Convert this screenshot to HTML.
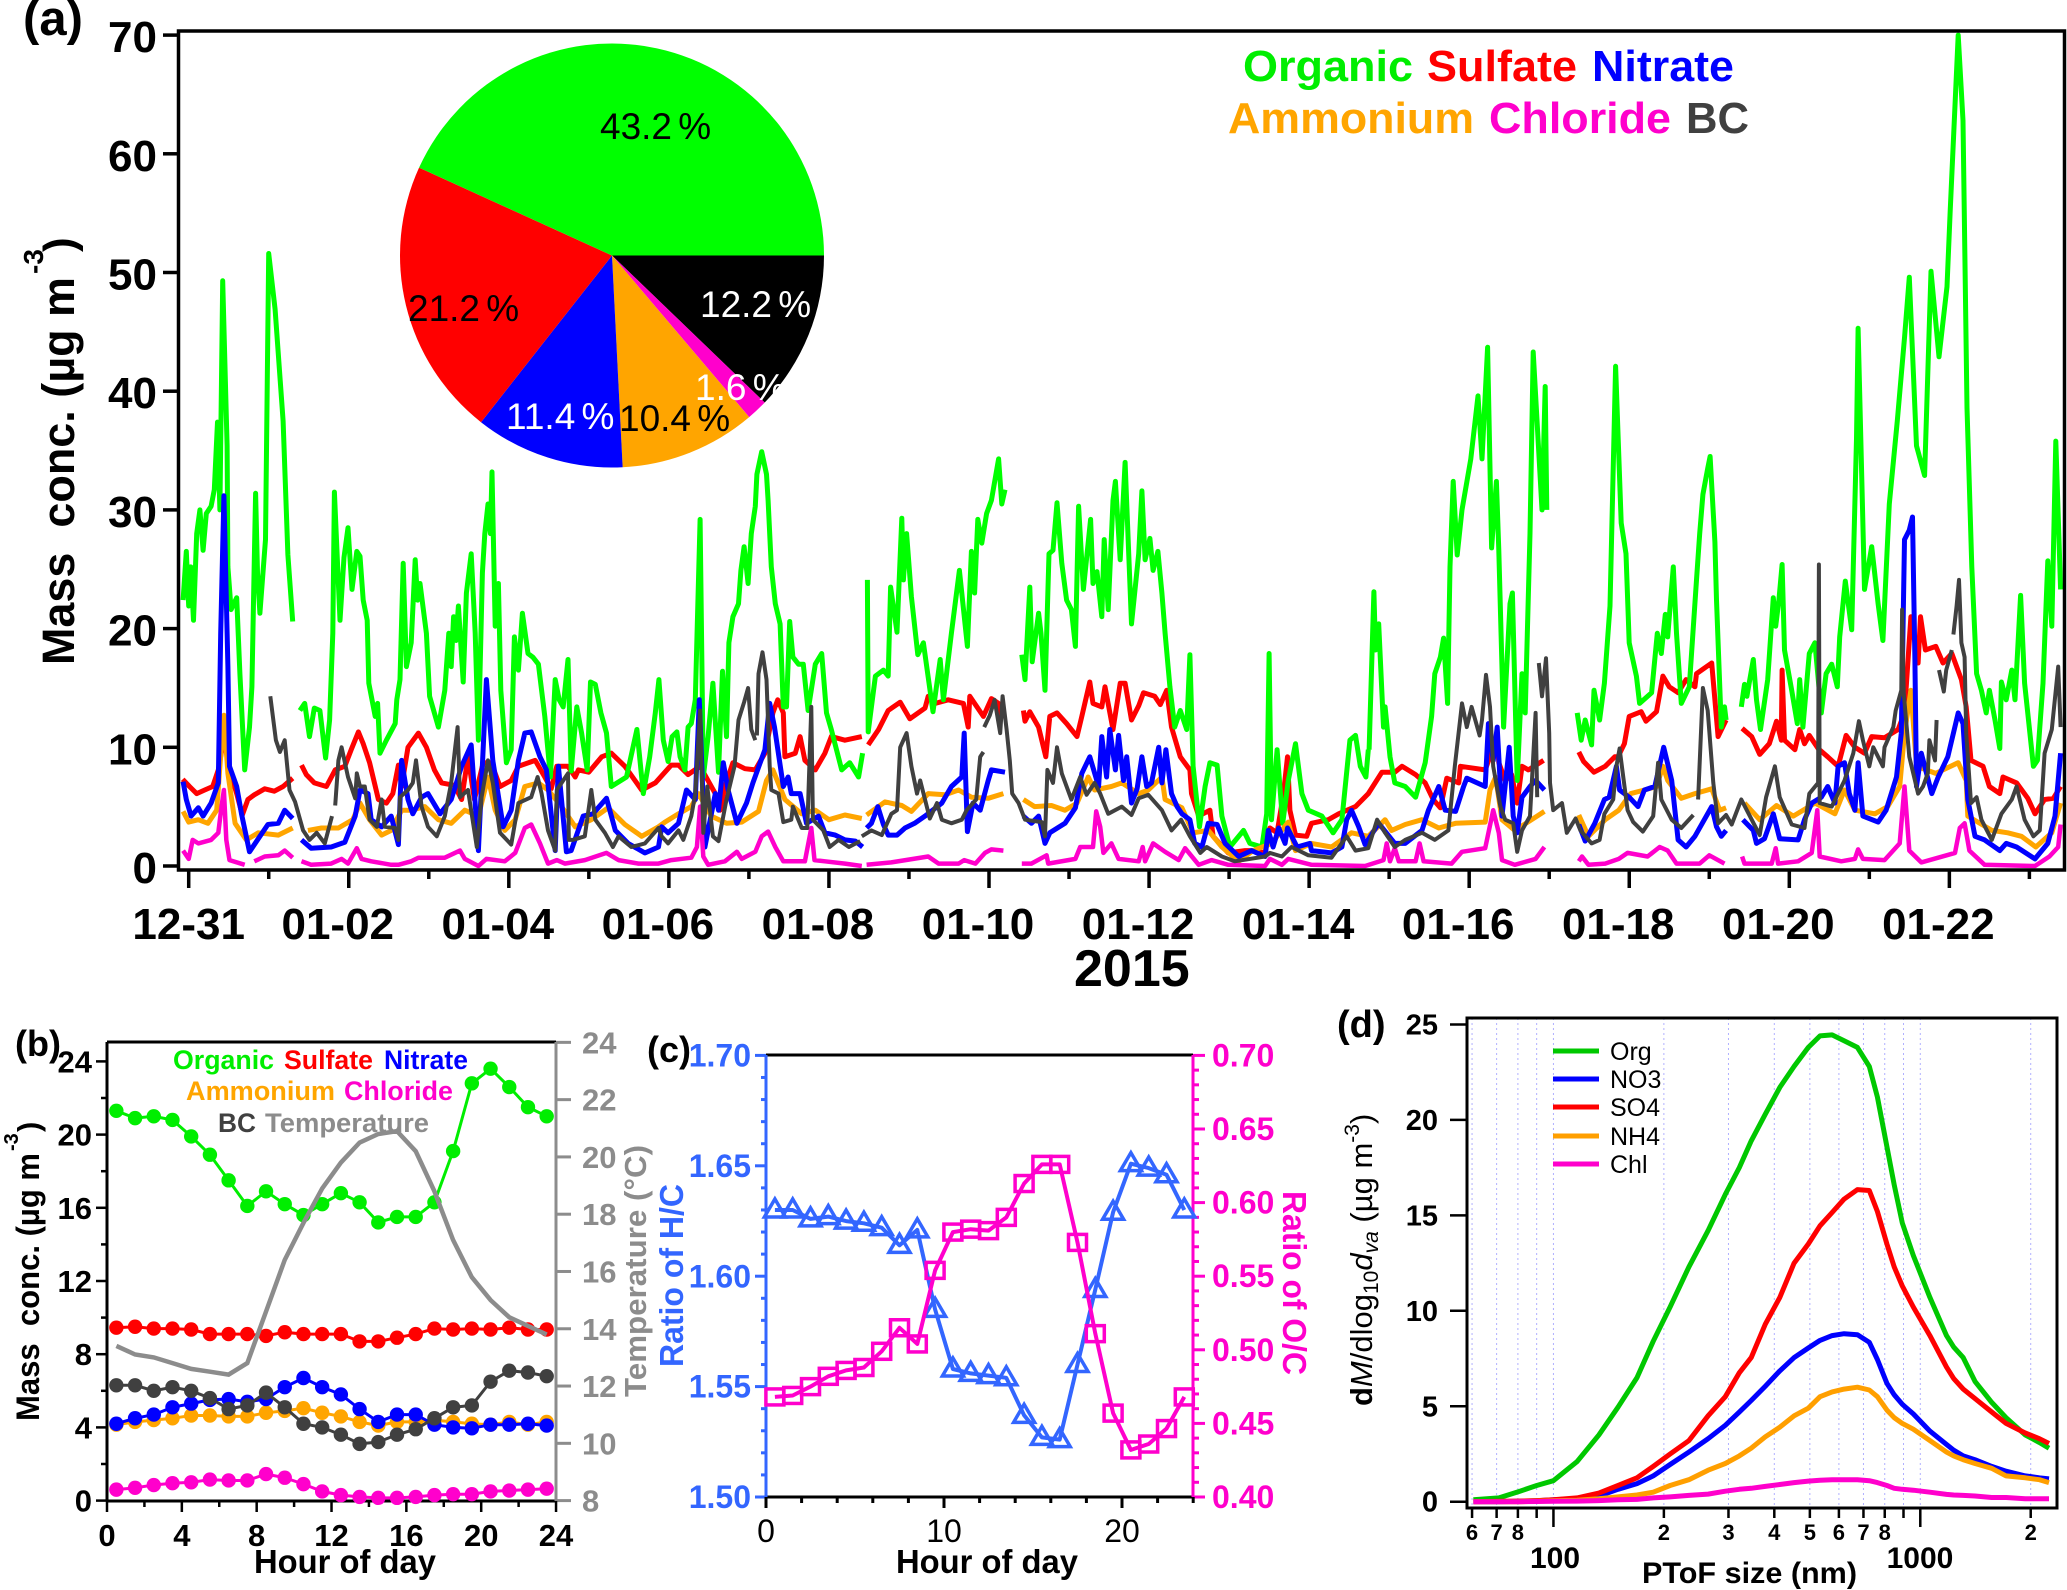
<!DOCTYPE html>
<html lang="en">
<head>
<meta charset="utf-8">
<title>Aerosol composition panels</title>
<style>
html,body{margin:0;padding:0;background:#fff;width:2067px;height:1590px;overflow:hidden}
svg{display:block}
text{font-family:"Liberation Sans",sans-serif}
.b{font-weight:bold}
</style>
</head>
<body>
<svg id="fig" xmlns="http://www.w3.org/2000/svg" width="2067" height="1590" viewBox="0 0 2067 1590">
  <g id="panelA">
    <text class="b" x="23" y="35" font-size="49">(a)</text>
    <g id="aLines"></g>
    <g id="aPie"></g>
    <rect x="178.5" y="31" width="1886" height="839" fill="none" stroke="#000" stroke-width="3.5"/>
    <g id="aAxes"></g>
    <text class="b" font-size="45" transform="translate(74,665) rotate(-90)" textLength="388" lengthAdjust="spacingAndGlyphs" xml:space="preserve">Mass  conc. (µg m</text>
    <text class="b" font-size="28" transform="translate(43,274) rotate(-90)">-3</text>
    <text class="b" font-size="44" transform="translate(74,252) rotate(-90)">)</text>
    <text class="b" x="1074" y="986" font-size="52">2015</text>
    <g class="b" font-size="44">
      <text x="1243" y="81" fill="#00ee00" textLength="170" lengthAdjust="spacingAndGlyphs">Organic</text>
      <text x="1427" y="81" fill="#ff0000" textLength="150" lengthAdjust="spacingAndGlyphs">Sulfate</text>
      <text x="1592" y="81" fill="#0000ff" textLength="142" lengthAdjust="spacingAndGlyphs">Nitrate</text>
      <text x="1228" y="133" fill="#ffa500" textLength="246" lengthAdjust="spacingAndGlyphs">Ammonium</text>
      <text x="1489" y="133" fill="#ff00cc" textLength="182" lengthAdjust="spacingAndGlyphs">Chloride</text>
      <text x="1686" y="133" fill="#404040" textLength="63" lengthAdjust="spacingAndGlyphs">BC</text>
    </g>
  </g>

  <g id="panelB">
    <text class="b" x="15" y="1056" font-size="36">(b)</text>
    <line x1="107" y1="1042" x2="556" y2="1042" stroke="#000" stroke-width="3"/>
    <line x1="107" y1="1042" x2="107" y2="1501" stroke="#000" stroke-width="3"/>
    <line x1="107" y1="1501" x2="556" y2="1501" stroke="#000" stroke-width="3"/>
    <line x1="556" y1="1042" x2="556" y2="1501" stroke="#8c8c8c" stroke-width="3"/>
    <g id="bAxes"></g>
    <g id="bMarks"></g>
    <text class="b" font-size="32" transform="translate(39,1421) rotate(-90)" textLength="268" lengthAdjust="spacingAndGlyphs" xml:space="preserve">Mass  conc. (µg m</text>
    <text class="b" font-size="20" transform="translate(18,1151) rotate(-90)">-3</text>
    <text class="b" font-size="31" transform="translate(39,1132) rotate(-90)">)</text>
    <text class="b" font-size="31" fill="#8c8c8c" transform="translate(646,1397) rotate(-90)" textLength="252" lengthAdjust="spacingAndGlyphs">Temperature (°C)</text>
    <text class="b" x="254" y="1573" font-size="33" textLength="182" lengthAdjust="spacingAndGlyphs">Hour of day</text>
    <g class="b" font-size="27">
      <text x="173" y="1069" fill="#00ee00" textLength="101" lengthAdjust="spacingAndGlyphs">Organic</text>
      <text x="284" y="1069" fill="#ff0000" textLength="89" lengthAdjust="spacingAndGlyphs">Sulfate</text>
      <text x="384" y="1069" fill="#0000ff" textLength="84" lengthAdjust="spacingAndGlyphs">Nitrate</text>
      <text x="186" y="1100" fill="#ffa500" textLength="149" lengthAdjust="spacingAndGlyphs">Ammonium</text>
      <text x="344" y="1100" fill="#ff00cc" textLength="109" lengthAdjust="spacingAndGlyphs">Chloride</text>
      <text x="218" y="1132" fill="#404040" textLength="38" lengthAdjust="spacingAndGlyphs">BC</text>
      <text x="265" y="1132" fill="#8c8c8c" textLength="164" lengthAdjust="spacingAndGlyphs">Temperature</text>
    </g>
  </g>

  <g id="panelC">
    <text class="b" x="647" y="1062" font-size="36">(c)</text>
    <line x1="766" y1="1055" x2="1193" y2="1055" stroke="#000" stroke-width="3"/>
    <line x1="766" y1="1497" x2="1193" y2="1497" stroke="#000" stroke-width="3"/>
    <line x1="766" y1="1055" x2="766" y2="1497" stroke="#3366ff" stroke-width="3"/>
    <line x1="1193" y1="1055" x2="1193" y2="1497" stroke="#ff00cc" stroke-width="3"/>
    <g id="cAxes"></g>
    <g id="cMarks"></g>
    <text class="b" font-size="33" fill="#3366ff" transform="translate(683,1367) rotate(-90)" textLength="183" lengthAdjust="spacingAndGlyphs">Ratio of H/C</text>
    <text class="b" font-size="33" fill="#ff00cc" transform="translate(1283,1191) rotate(90)" textLength="184" lengthAdjust="spacingAndGlyphs">Ratio of O/C</text>
    <text class="b" x="896" y="1573" font-size="33" textLength="182" lengthAdjust="spacingAndGlyphs">Hour of day</text>
  </g>

  <g id="panelD">
    <text class="b" x="1337" y="1037" font-size="38">(d)</text>
    <g id="dGrid"></g>
    <g id="dMarks"></g>
    <rect x="1467" y="1018" width="590" height="490" fill="none" stroke="#000" stroke-width="3"/>
    <g id="dAxes"></g>
    <g font-size="25">
      <line x1="1553" y1="1051" x2="1599" y2="1051" stroke="#00c800" stroke-width="5"/>
      <text x="1610" y="1060">Org</text>
      <line x1="1553" y1="1079" x2="1599" y2="1079" stroke="#0000ff" stroke-width="5"/>
      <text x="1610" y="1088">NO3</text>
      <line x1="1553" y1="1107" x2="1599" y2="1107" stroke="#ff0000" stroke-width="5"/>
      <text x="1610" y="1116">SO4</text>
      <line x1="1553" y1="1136" x2="1599" y2="1136" stroke="#ff9f00" stroke-width="5"/>
      <text x="1610" y="1145">NH4</text>
      <line x1="1553" y1="1164" x2="1599" y2="1164" stroke="#ff00cc" stroke-width="5"/>
      <text x="1610" y="1173">Chl</text>
    </g>
    <text font-size="31" transform="translate(1372,1406) rotate(-90)" xml:space="preserve"><tspan font-weight="bold">d</tspan><tspan font-style="italic">M</tspan>/dlog<tspan font-size="21" dy="6">10</tspan><tspan font-style="italic" dy="-6">d</tspan><tspan font-style="italic" font-size="21" dy="6">va</tspan><tspan dy="-6"> (µg m</tspan><tspan font-size="21" dy="-13">-3</tspan><tspan dy="13">)</tspan></text>
    <text class="b" x="1642" y="1583" font-size="30" textLength="215" lengthAdjust="spacingAndGlyphs">PToF size (nm)</text>
  </g>
</svg>

<script>
/* ---------- Panel (a) data: [day since 12-31, mass concentration]; null marks a data gap ---------- */
const organicSeries = [[-.07,22.4],[-.03,26.5],[0,21.9],[.025,25.2],[.06,20.7],[.1,28],[.14,30],[.18,26.6],[.22,29.7],[.28,30.3],[.32,31.7],[.36,37.4],[.39,30],[.425,49.3],[.48,35.4],[.49,25.2],[.53,21.6],[.6,22.6],[.64,16.2],[.7,8.1],[.76,11.7],[.79,15.1],[.82,25.8],[.836,31.4],[.86,24.7],[.89,21.3],[.96,27.5],[1,51.6],[1.08,46.9],[1.18,37.5],[1.24,26.2],[1.3,20.6],null,
[1.39,13.1],[1.45,13.7],[1.51,10.9],[1.57,13.3],[1.64,13.1],[1.71,9.1],[1.76,12.3],[1.8,19.6],[1.82,31.5],[1.89,20.7],[1.94,26],[1.99,28.5],[2.04,23.3],[2.1,26.5],[2.14,26.1],[2.18,22.4],[2.23,20.7],[2.25,15.4],[2.33,12.6],[2.36,13.7],[2.39,9.5],[2.47,10.6],[2.58,12],[2.6,14],[2.64,15.7],[2.68,25.5],[2.72,16.8],[2.78,18.8],[2.83,25.8],[2.86,22.4],[2.89,23.8],[2.97,19.6],[3.01,14.3],[3.12,11.7],[3.2,14.8],[3.25,19.6],[3.28,16.8],[3.31,21],[3.34,19],[3.37,21.9],[3.43,15.5],[3.47,23],[3.53,26.3],[3.58,19.6],[3.62,10.6],[3.67,24.7],[3.7,28],[3.74,30.5],[3.77,28],[3.79,33.2],[3.83,20.2],[3.87,23.8],[3.9,14.8],[3.97,8.7],[4.03,9.8],[4.07,19.3],[4.12,16.5],[4.17,21.3],[4.24,17.9],[4.3,17.6],[4.37,17],[4.45,12.6],[4.52,7.5],[4.58,15.7],[4.63,14],[4.68,13.4],[4.74,17.4],[4.78,8],[4.85,13.4],[4.91,11.2],[4.98,8.1],[5.02,15.5],[5.08,15.3],[5.15,12.9],[5.22,11.2],[5.28,6.7],[5.47,7.5],[5.6,11.5],[5.68,6.1],[5.76,9.2],[5.83,12.9],[5.875,15.7],[5.93,10.6],[5.99,8.8],[6.04,10.9],[6.1,11.3],[6.14,9.2],[6.2,8.1],[6.24,11.7],[6.28,12],[6.33,14],[6.39,29.2],[6.43,7.5],[6.49,10.9],[6.55,15.4],[6.62,7.9],[6.67,16.4],[6.72,10.9],[6.75,18.8],[6.8,21],[6.87,22.1],[6.9,24.9],[6.94,26.9],[6.99,23.8],[7.03,28],[7.08,30.3],[7.1,33],[7.16,34.9],[7.22,33],[7.24,30.8],[7.28,25.2],[7.33,22.1],[7.39,20.4],[7.43,13.4],[7.47,13.4],[7.51,20.6],[7.55,17.6],[7.62,17],[7.68,17],[7.74,13.1],[7.83,17],[7.91,17.9],[7.97,12.9],[8.03,11.5],[8.16,8.1],[8.26,8.7],[8.37,7.5],[8.42,9.5],null,
[8.48,24.1],[8.49,11.3],[8.58,16],[8.68,16.5],[8.74,16],[8.77,23.5],[8.85,19.7],[8.91,29.3],[8.93,24.1],[8.97,28],[9.03,22.7],[9.11,17.8],[9.18,18.8],[9.3,13],[9.39,17.4],[9.43,14],[9.53,19.6],[9.63,24.9],[9.73,18.5],[9.78,26.5],[9.82,23],[9.86,29.2],[9.91,27.2],[9.97,29.7],[10.03,30.8],[10.12,34.3],[10.16,30.5],[10.2,31.7],null,
[10.41,17.8],[10.45,15.7],[10.51,23.5],[10.54,17.2],[10.62,21.3],[10.65,19.6],[10.7,14.8],[10.75,26.3],[10.8,26.6],[10.85,30.6],[10.91,25.5],[10.97,22.4],[11.03,21.6],[11.08,18.5],[11.12,30.3],[11.18,23.3],[11.27,29.2],[11.3,23.8],[11.35,24.8],[11.41,21],[11.44,27.5],[11.49,21.6],[11.55,30.8],[11.58,32.4],[11.64,25.8],[11.7,34],[11.78,20.4],[11.87,26.3],[11.91,31.6],[11.95,25.8],[12.01,27.6],[12.05,24.9],[12.11,26.5],[12.16,23],[12.2,19.6],[12.26,15.1],[12.32,11.7],[12.39,13.1],[12.47,11.5],[12.51,17.8],[12.55,8.4],[12.63,3.3],[12.7,6.7],[12.76,8.7],[12.85,8.5],[12.91,4.2],[13.01,1.6],[13.18,3],[13.26,1.9],[13.41,1.6],[13.47,4.4],[13.5,17.9],[13.53,3.9],[13.6,9.8],[13.67,3.6],[13.74,7.2],[13.83,10.3],[13.91,6.1],[13.99,4.7],[14.16,4.2],[14.3,2.8],[14.41,3.9],[14.51,10.6],[14.58,11],[14.64,8.4],[14.71,7.5],[14.74,9.8],null,
[14.75,9.8],[14.81,23.1],[14.83,18.2],[14.87,20.4],[14.93,11.7],[14.95,13.4],[15.01,9.2],[15.07,7],[15.2,6.7],[15.33,5.8],[15.45,8.7],[15.53,12.6],[15.57,16.2],[15.64,17.6],[15.68,19.2],[15.73,13.7],[15.76,25.2],[15.8,32.4],[15.85,26.2],[15.91,30],[16.02,34.3],[16.11,39.6],[16.16,34.3],[16.23,43.7],[16.28,26.8],[16.34,32.4],[16.37,26.6],[16.43,11.7],[16.51,22.1],[16.54,23],[16.6,7.2],[16.66,16.2],[16.7,12.9],[16.76,28],[16.8,43.3],[16.91,30],[16.95,40.4],[16.97,30],null,
[17.35,12.9],[17.4,10.6],[17.45,12.3],[17.53,10.2],[17.56,14.8],[17.63,12.3],[17.69,15.4],[17.76,21.9],[17.83,42.1],[17.9,28.9],[17.96,26.3],[18,18.8],[18.09,16],[18.13,13.7],[18.28,14.6],[18.35,19.6],[18.4,17.9],[18.45,21.2],[18.48,19.3],[18.55,25.2],[18.59,19.6],[18.65,13.7],[18.75,15.1],[18.84,24.1],[18.88,28],[18.92,31.3],[18.98,33.5],[19.01,34.5],[19.07,27.3],[19.09,22.4],[19.15,11.7],[19.19,13.4],[19.21,12.3],null,
[19.4,13.4],[19.44,15.3],[19.47,14.3],[19.55,17.4],[19.59,14],[19.64,11.5],[19.73,15.7],[19.8,22.6],[19.83,20.2],[19.87,22.4],[19.91,25.4],[19.94,18.2],[20.03,14.8],[20.1,12],[20.13,15.7],[20.17,11.7],[20.25,17.9],[20.32,18.8],[20.4,12.9],[20.46,16.2],[20.53,17],[20.6,15.1],[20.63,19.3],[20.7,24],[20.78,19.9],[20.84,36],[20.86,45.3],[20.94,23.3],[21.03,26.9],[21.11,22.1],[21.17,19],[21.25,30.5],[21.35,37.5],[21.44,44.5],[21.5,49.6],[21.59,35.4],[21.69,32.9],[21.77,50.1],[21.87,42.9],[21.97,48.8],[22.01,55.2],[22.11,70],[22.17,62.8],[22.22,38.6],[22.28,25.2],[22.34,16.2],[22.4,14.8],[22.46,12.9],[22.5,14.8],[22.57,12.3],[22.63,9.9],[22.65,15.5],[22.71,14],[22.78,16.5],[22.82,14],[22.89,22.8],[22.94,15.4],[23.05,8.4],[23.1,8.9],[23.17,15.4],[23.23,25.7],[23.28,20.2],[23.33,35.8],[23.39,23.3]];

const sulfateSeries = [[-.075,7.3],[.01,6.7],[.1,6.1],[.2,6.4],[.3,6.7],[.37,8.1],[.44,10.8],[.51,8.1],[.6,6.1],[.67,4.3],[.74,5.6],[.82,6],[.95,6.5],[1.07,6.3],[1.18,6.7],[1.3,7.4],null,
[1.41,8.5],[1.47,7.7],[1.57,7],[1.72,6.7],[1.83,8.1],[1.95,8.4],[2.03,9.8],[2.12,11.3],[2.18,10.3],[2.26,8.7],[2.37,5.6],[2.47,5.3],[2.55,6.1],[2.62,8.5],[2.66,6.7],[2.74,10],[2.87,11.2],[2.97,10],[3.07,8.1],[3.16,7],[3.32,6.8],[3.41,5.6],[3.49,9.2],[3.57,5.6],[3.68,8.7],[3.78,8.7],[3.89,6.7],[4.03,7.2],[4.12,8.4],[4.33,8.9],[4.45,7.5],[4.53,6.5],[4.6,8.4],[4.74,8.4],[4.83,7.5],[4.87,8.1],[5,7.9],[5.16,9.2],[5.28,9.5],[5.45,8.4],[5.66,6.4],[5.83,7],[6.03,8.5],[6.12,8.5],[6.24,7.7],[6.39,8.4],[6.58,6.1],[6.64,4.7],[6.7,6.7],[6.8,8.7],[6.95,8.2],[7.08,8.1],[7.2,9.5],[7.3,12.9],[7.36,14],[7.43,12.9],[7.45,9.2],[7.58,9.5],[7.64,10.9],[7.7,8.9],[7.83,8.1],[7.95,9.5],[8.03,10.9],[8.2,10.6],[8.41,10.9],null,
[8.49,10.2],[8.62,11.5],[8.74,13.1],[8.89,13.8],[9.01,12.4],[9.2,13.3],[9.24,14.3],[9.33,13.7],[9.49,14],[9.68,13.7],[9.74,11.7],[9.76,14.3],[9.93,12.6],[10.03,14.1],[10.12,13.7],[10.14,12.3],null,
[10.43,13.1],[10.45,12.2],[10.51,13],[10.62,11.7],[10.71,9.2],[10.76,12.6],[10.85,12.9],[10.97,12],[11.1,10.9],[11.16,12.6],[11.26,15.5],[11.3,13.7],[11.41,13.4],[11.45,15.1],[11.55,11.5],[11.64,15.4],[11.7,15.4],[11.78,12.3],[11.87,13.5],[11.93,14.6],[12.07,14.3],[12.14,13.6],[12.22,14.8],[12.28,11.7],[12.39,9.2],[12.51,8.1],[12.53,6.1],[12.62,4.2],[12.76,4.7],[12.8,2.5],[12.99,1.1],[13.2,1.3],[13.3,1.3],[13.45,1.1],[13.51,3.2],[13.6,2.8],[13.68,6.1],[13.73,9.2],[13.76,4.7],[13.83,2.6],[13.97,2.5],[14.03,3.6],[14.24,3.9],[14.37,4.4],[14.58,5],[14.74,6.1],[14.91,7.9],[15.07,7.9],[15.16,8.4],[15.33,7.7],[15.45,7],[15.55,5.6],[15.64,4.9],[15.72,7.4],[15.87,7],[15.89,8.4],[16.2,8.1],[16.35,10.9],[16.37,8.7],[16.45,7.2],[16.53,7.7],[16.6,5.3],[16.66,8.4],[16.74,8.1],[16.93,8.9],null,
[17.37,9.6],[17.43,8.8],[17.56,7.9],[17.7,8.4],[17.82,9.2],[17.86,9.2],[17.94,10.3],[18,12.6],[18.15,13],[18.21,12.2],[18.34,13],[18.42,16],[18.5,15.1],[18.61,14.6],[18.71,15.7],[18.82,15.1],[18.84,16.2],[19.03,17.1],[19.11,10.9],[19.21,12.3],null,
[19.41,11.6],[19.53,10.9],[19.63,9.4],[19.75,10.3],[19.84,12.2],[19.9,10.6],[19.91,16.5],[19.94,10.6],[20.07,9.8],[20.13,11.5],[20.19,10.3],[20.25,11],[20.36,9.9],[20.48,9.2],[20.61,8.4],[20.71,11],[20.82,10],[20.94,9.5],[21.03,10.9],[21.19,10.8],[21.36,11.5],[21.44,12.9],[21.52,21],[21.61,17.1],[21.64,21],[21.7,18.2],[21.83,18.5],[21.92,17.1],[22.03,17.9],[22.15,15.7],[22.21,13.4],[22.27,8.9],[22.42,8.4],[22.5,6.7],[22.63,6.1],[22.67,7.5],[22.84,7],[22.98,5.7],[23.07,4.4],[23.19,5.6],[23.3,5.7],[23.39,6.7]];

const nitrateSeries = [[-.07,7.1],[-.03,5.6],[.03,4.2],[.12,4.9],[.18,4.2],[.28,5.3],[.37,7],[.4,19.6],[.44,31.2],[.49,16.8],[.51,8.4],[.6,6.7],[.66,4.4],[.76,1.2],[.89,2.5],[.99,3.5],[1.12,3.6],[1.2,4.7],[1.3,4],null,
[1.41,2.2],[1.53,1.5],[1.78,1.6],[1.95,2],[2.08,4.2],[2.14,6.4],[2.24,6.1],[2.28,3.9],[2.41,3.3],[2.53,4.2],[2.62,1.8],[2.66,8.9],[2.74,5.6],[2.8,4.4],[2.91,5.8],[2.99,6.1],[3.14,4.4],[3.28,5.6],[3.41,8.4],[3.53,10.2],[3.62,1.3],[3.72,15.7],[3.8,8.9],[3.93,3.3],[4.03,4.7],[4.12,8.9],[4.2,11.2],[4.28,11.3],[4.39,9.2],[4.47,8.1],[4.58,1.3],[4.62,8.4],[4.72,1.2],[4.78,1.3],[4.93,4.2],[5.05,4.4],[5.22,5.7],[5.33,3],[5.49,1.9],[5.7,1.1],[5.87,1.6],[5.91,3.3],[5.99,2.8],[6.12,3.6],[6.22,6.4],[6.33,5.6],[6.38,14],[6.45,1.6],[6.58,6.1],[6.62,4.7],[6.68,8.7],[6.74,6.4],[6.85,3.6],[6.97,5.3],[7.05,7],[7.2,9.8],[7.26,13.7],[7.32,11.7],[7.43,6.7],[7.49,7.5],[7.53,6.1],[7.64,6.1],[7.72,3.6],[7.87,4.2],[7.95,2.8],[8.08,2.6],[8.2,2.2],[8.33,2.1],[8.42,1.6],null,
[8.47,3.2],[8.53,3.6],[8.61,5],[8.68,3.5],[8.74,2.6],[8.85,2.6],[8.95,3.2],[9.07,3.6],[9.2,4.2],[9.41,5.3],[9.53,6.7],[9.66,7.5],[9.69,11.2],[9.73,2.9],[9.8,5.3],[9.89,4.7],[9.99,7.2],[10.03,8.1],[10.2,7.9],null,
[10.43,4.2],[10.53,3.6],[10.62,4.2],[10.7,1.9],[10.76,2.8],[10.95,3.6],[11.08,4.9],[11.16,7.8],[11.26,9.2],[11.37,6.7],[11.41,10.9],[11.47,7.5],[11.51,11.5],[11.58,8.1],[11.62,11],[11.68,7.2],[11.72,9.2],[11.78,5.3],[11.85,6.5],[11.91,9.2],[11.97,6.7],[12.03,7],[12.12,10],[12.16,7],[12.21,9.8],[12.28,6.1],[12.35,5],[12.41,4.4],[12.51,3.9],[12.57,1.9],[12.66,1.6],[12.74,3.6],[12.85,3.5],[12.95,1.9],[13.12,.8],[13.28,1.3],[13.45,.8],[13.49,3],[13.55,1.6],[13.62,3.2],[13.7,1.9],[13.73,3.2],[13.85,1.6],[14.01,1.9],[14.03,1.3],[14.28,1.1],[14.41,1.6],[14.47,3.9],[14.53,4.7],[14.62,3.3],[14.7,1.8],[14.87,3.6],[15.07,1.9],[15.2,1.9],[15.41,3],[15.49,4.7],[15.62,6.7],[15.7,4.7],[15.83,4.6],[15.93,6.7],[15.97,7.4],[16.2,6.7],[16.24,12],[16.3,8.9],[16.35,11.7],[16.41,4.2],[16.5,10],[16.55,4.2],[16.6,2.8],[16.66,5.8],[16.76,6.7],[16.83,7.2],[16.94,6.4],null,
[17.37,3.5],[17.45,2.1],[17.57,3.6],[17.69,5.6],[17.75,5.8],[17.84,8.4],[17.88,6.4],[18,5.8],[18.11,5],[18.19,6.4],[18.32,6.7],[18.43,10],[18.53,7.2],[18.61,2.2],[18.71,1.6],[18.82,2.5],[19.03,5],[19.09,3.3],[19.15,2.5],[19.21,3],null,
[19.42,3.9],[19.55,3],[19.59,1.9],[19.69,2.3],[19.8,4.4],[19.88,2.3],[20.11,2.2],[20.19,3.9],[20.28,5.3],[20.4,5.8],[20.48,6.7],[20.57,5.3],[20.61,8.4],[20.69,8.7],[20.75,6.1],[20.82,4.7],[20.86,8.7],[20.92,4.2],[21.11,3.7],[21.21,4.7],[21.34,7.5],[21.4,11.2],[21.44,27.5],[21.5,28.3],[21.54,29.4],[21.57,17.4],[21.59,6.7],[21.65,9.5],[21.78,6.1],[21.86,7.5],[21.98,9.2],[22.11,12.9],[22.17,12],[22.23,5.6],[22.32,2.5],[22.44,2.2],[22.63,1.3],[22.71,1.9],[22.84,1.6],[23.07,.6],[23.23,1.9],[23.32,4.2],[23.39,9.5]];

const ammoniumSeries = [[-.07,4.6],[0,3.7],[.12,3.9],[.24,3.6],[.35,4.7],[.39,8.4],[.44,12.7],[.49,7.8],[.58,3.6],[.72,2.2],[.87,2.8],[1.12,2.6],[1.3,3.2],null,
[1.49,3],[1.66,3.2],[1.87,3.2],[2.05,3.9],[2.14,5.3],[2.26,3.9],[2.41,2.6],[2.53,3],[2.66,4.7],[2.78,4.7],[2.95,5],[3.12,3.9],[3.28,3.6],[3.45,4.7],[3.62,4.2],[3.74,7.5],[3.83,4.7],[3.95,3],[4.08,3.9],[4.2,6.7],[4.37,7],[4.49,6.4],[4.66,5],[4.83,3.3],[5.03,3.9],[5.24,4.9],[5.45,3.5],[5.66,2.5],[5.87,3.3],[5.95,3.7],[6.12,4.4],[6.28,5],[6.37,6.1],[6.53,4.2],[6.72,3.6],[6.91,3.7],[7.12,4.6],[7.22,7.2],[7.3,8.1],[7.45,5.6],[7.66,4.4],[7.83,4.7],[8,3.9],[8.2,4.3],[8.41,4],null,
[8.47,4.3],[8.7,5.4],[8.91,5.1],[9.03,4.6],[9.24,6.1],[9.45,6],[9.62,6.4],[9.78,5.8],[9.99,5.7],[10.18,6.1],null,
[10.43,5.6],[10.57,5],[10.78,5.1],[10.95,4.7],[11.1,5.3],[11.24,7.5],[11.32,6.4],[11.53,6.7],[11.66,7],[11.87,6.1],[11.99,6.4],[12.16,7.5],[12.2,5.6],[12.41,4.9],[12.55,2.8],[12.74,3],[12.91,1.6],[13.12,.4],[13.3,1.3],[13.53,1.9],[13.74,3.7],[13.83,1.3],[14.03,1.9],[14.28,1.6],[14.53,2.8],[14.74,2.5],[14.95,3.9],[15.03,3],[15.2,3.5],[15.41,3.9],[15.62,3.2],[15.83,3.6],[16.2,3.7],[16.26,6.4],[16.33,7.5],[16.41,3.9],[16.57,3],[16.78,3.9],[16.94,4.6],null,
[17.37,4.3],[17.49,2.5],[17.7,3.9],[17.87,4.7],[18.02,6.1],[18.19,6.4],[18.34,6.7],[18.42,8.4],[18.48,7.2],[18.65,5.7],[18.82,6.1],[19.03,6.5],[19.13,4.7],[19.21,4.9],null,
[19.44,5.3],[19.63,3.9],[19.84,5.1],[20.05,4.2],[20.32,5.3],[20.57,4.4],[20.69,6.4],[20.82,4.7],[21.07,4.4],[21.23,5],[21.38,6.7],[21.44,11.2],[21.52,14.8],[21.59,8.4],[21.83,7.8],[21.95,8.2],[22.11,8.7],[22.21,7.2],[22.23,4.2],[22.53,3],[22.73,2.8],[22.9,2.5],[23.08,1.6],[23.28,2.8],[23.39,5.3]];

const chlorideSeries = [[-.07,1.3],[0,.6],[.05,2.2],[.12,1.9],[.28,2.2],[.37,2.8],[.41,5],[.44,6.4],[.47,2.2],[.51,.5],[.7,.1],null,
[.82,.4],[.95,.8],[1.12,.9],[1.2,1.3],[1.3,.7],null,
[1.41,.4],[1.53,.1],[1.78,.2],[1.91,.6],[1.99,.2],[2.1,1.5],[2.16,.6],[2.28,.4],[2.53,.1],[2.62,.1],[2.78,.4],[2.87,.7],[3.2,.7],[3.39,1.3],[3.45,.6],[3.62,0],[3.72,.6],[3.95,.4],[4.08,1.1],[4.2,3.2],[4.28,3.5],[4.39,1.9],[4.49,.2],[4.6,.5],[4.7,.2],[4.95,.5],[5.22,1.1],[5.37,.5],[5.62,.2],[5.87,.2],[6.03,.5],[6.28,.7],[6.35,1.6],[6.39,5],[6.43,.8],[6.49,.1],[6.7,.4],[6.85,1.2],[6.91,.6],[7.08,1.2],[7.16,2.5],[7.24,2.9],[7.33,1.6],[7.43,.4],[7.7,.4],[7.78,3.2],[7.82,.5],[7.95,.4],[8.2,.2],[8.41,0],null,
[8.47,.1],[8.78,.3],[9.24,.8],[9.37,.2],[9.62,.2],[9.69,.5],[9.83,.2],[9.95,1.1],[10.03,1.4],[10.18,1.3],null,
[10.41,.2],[10.53,.2],[10.72,.9],[10.74,.2],[11.08,.6],[11.14,1.6],[11.3,1.6],[11.34,4.6],[11.39,3.3],[11.43,1.1],[11.53,1.9],[11.62,.6],[11.87,.4],[11.92,1.6],[11.95,.4],[12.05,1.9],[12.2,1.2],[12.37,.5],[12.45,1.5],[12.62,.1],[12.78,.5],[12.99,.1],[13.45,0],[13.51,.6],[13.66,.1],[13.74,.6],[14.03,.1],[14.7,0],[14.93,.5],[14.97,1.9],[15.01,.4],[15.07,1.5],[15.12,.4],[15.33,.4],[15.38,1.9],[15.43,.4],[15.78,.2],[15.91,1.2],[16.2,1.5],[16.3,4.7],[16.37,2.8],[16.41,.5],[16.57,.1],[16.83,.6],[16.94,1.6],null,
[17.37,.4],[17.41,.8],[17.49,.1],[17.7,.2],[17.87,.6],[17.98,1.1],[18.23,.8],[18.38,1.6],[18.48,1.3],[18.59,.2],[18.88,.2],[19,.9],[19.19,.2],null,
[19.41,.8],[19.44,.2],[19.78,.2],[19.83,1.5],[19.86,.2],[20.11,.4],[20.28,1.1],[20.35,4.7],[20.38,.8],[20.65,.4],[20.82,.6],[20.86,1.4],[20.92,.6],[21.19,.5],[21.38,1.9],[21.44,6.7],[21.5,1.3],[21.65,.3],[22.07,1.1],[22.13,3.2],[22.19,3.6],[22.25,1.3],[22.44,.1],[23.07,0],[23.25,.8],[23.36,1.6],[23.39,3.5]];

const bcSeries = [[1.02,14.3],[1.09,10.6],[1.14,9.6],[1.2,10.6],[1.26,6.4],[1.33,5.4],[1.43,3],[1.51,2.2],[1.6,2.8],[1.7,1.9],[1.79,4.2],null,
[1.83,5.1],[1.87,8.9],[1.91,10],[1.99,7.5],[2.08,5.7],[2.1,7.8],[2.14,6.7],[2.2,6.7],[2.26,3.9],[2.35,3.3],[2.41,5.6],[2.45,3.3],[2.58,3.2],[2.62,2.2],[2.64,5.8],[2.74,6.4],[2.8,7],[2.84,8.9],[2.91,5],[2.99,3.3],[3.1,2.5],[3.2,4.2],[3.28,7],[3.33,10],[3.36,11.7],[3.39,5.8],[3.49,6.4],[3.6,1.6],[3.66,5.8],[3.74,8.9],[3.8,7],[3.89,2.8],[4.03,1.8],[4.12,5.3],[4.28,5.8],[4.36,7.5],[4.41,6.1],[4.49,3],[4.58,1.3],[4.6,6.4],[4.74,7.8],[4.75,2.2],[4.8,2.2],[4.95,2.5],[5.03,6.4],[5.08,3.9],[5.2,2.8],[5.3,1.6],[5.37,2.5],[5.53,1.6],[5.7,1.9],[5.87,3.2],[5.91,2.5],[5.99,1.9],[6.12,3],[6.18,2.2],[6.28,4.2],[6.33,6.1],[6.39,13.1],[6.43,2.8],[6.48,6.7],[6.55,2.5],[6.62,2.1],[6.72,5.6],[6.82,8.4],[6.87,12.3],[6.94,13.8],[6.99,15],[7.03,11.5],[7.08,10.6],null,
[7.1,11],[7.12,16.2],[7.17,18],[7.22,15.7],[7.26,8.4],[7.28,6.4],[7.37,6.1],[7.43,3.7],[7.53,3.9],[7.55,5],[7.66,3.2],[7.73,3.2],[7.78,13.4],[7.8,3.9],[7.93,3],[8.01,1.6],[8.12,2.2],[8.25,1.6],[8.39,2.1],null,
[8.41,2.5],[8.53,3],[8.66,2.6],[8.78,4.4],[8.85,4.7],[8.89,10],[8.97,11.2],[9.03,8.4],[9.1,6.1],[9.14,7.2],[9.2,5.6],[9.26,4],[9.35,5.3],[9.41,3.9],[9.53,3.6],[9.66,3.9],[9.72,4.7],[9.84,5.6],[9.89,9.2],[9.93,9.6],null,
[9.94,11.7],[10.01,12.7],[10.07,14],[10.14,11.2],[10.17,14.3],[10.22,11.5],[10.26,8.9],[10.29,6.1],[10.37,5.3],[10.45,3.9],[10.66,3.7],[10.7,2.5],[10.73,8.1],[10.8,7],[10.85,10],[10.91,7.8],[11.03,5.6],[11.14,7.5],[11.22,6],[11.32,7],[11.39,6.1],[11.49,4.4],[11.66,5],[11.78,4.3],[11.87,5.7],[11.99,6],[12.16,4.7],[12.28,3],[12.4,3.9],[12.51,2.5],[12.64,1.1],[12.72,1.6],[12.91,.8],[13.07,.4],[13.45,.8],[13.51,1.1],[13.66,.8],[13.78,1.6],[13.99,.9],[14.28,.7],[14.47,2.5],[14.58,1.3],[14.74,1.5],[14.85,3.9],[14.95,2.8],[15.07,1.6],[15.2,2.2],[15.41,2.8],[15.57,2.2],[15.74,3],[15.82,8.4],[15.91,13.7],[15.97,11.7],[16.03,13.4],[16.13,11],[16.16,12.3],[16.21,16.1],[16.26,13.4],[16.3,8.4],[16.39,5],[16.45,3.9],[16.55,3.6],[16.6,1.2],[16.66,3],[16.76,4.2],[16.83,12.9],[16.85,5.8],null,
[16.87,17.1],[16.91,14.3],[16.96,17.5],[17,11.2],[17.01,7],[17.05,4.7],[17.16,5.3],[17.22,2.8],[17.33,4],[17.39,3],[17.53,1.9],[17.63,2.2],[17.69,4.4],[17.8,5.6],[17.84,8.4],[17.88,9.9],[17.92,7.8],[17.98,4.7],[18.05,3.7],[18.17,2.9],[18.3,4.2],[18.36,8.7],[18.4,5.6],[18.53,3.9],[18.65,3.2],[18.8,4.3],null,
[18.86,5.6],[18.92,15],[18.98,13.1],[19.05,7],[19.11,3.6],[19.21,4.3],[19.28,3.5],[19.4,5.6],[19.53,3.9],[19.63,2.6],[19.71,5.8],[19.82,8.4],[19.88,5.8],[20.03,3.5],[20.19,3.2],[20.25,6.1],[20.36,7],[20.37,25.4],[20.38,5.3],[20.53,5],[20.69,7.2],[20.8,9.5],[20.87,12.2],[20.92,10.6],[21,8.4],[21.05,10],[21.17,8.4],[21.19,10],[21.3,11.7],[21.33,13.1],[21.4,14.8],[21.41,21.6],[21.43,14.6],[21.5,9.2],[21.61,6.1],[21.67,6.7],[21.73,7.8],[21.75,10.6],[21.82,8.9],[21.84,12.3],null,
[21.87,16.5],[21.93,14.7],[21.96,16.5],[22.03,18.2],null,
[22.05,19.5],[22.09,21.9],[22.12,24.1],[22.15,18.8],[22.19,17.6],[22.21,11.2],[22.27,5.3],[22.34,5.8],[22.4,3.9],[22.53,2.2],[22.65,4.4],[22.78,5.6],[22.84,6.7],[22.94,3.9],[23.05,2.5],[23.13,3],[23.19,9.5],[23.28,11.5],[23.36,16.8],[23.39,11.7]];

const pieValues = [12.2, 1.6, 10.4, 11.4, 21.2, 43.2];
const pieNames = ['bc', 'chloride', 'ammonium', 'nitrate', 'sulfate', 'organic'];
const aYTicks = [0, 10, 20, 30, 40, 50, 60, 70];
const aXMajorDays = [0, 2, 4, 6, 8, 10, 12, 14, 16, 18, 20, 22];
const aXLabels = ['12-31', '01-02', '01-04', '01-06', '01-08', '01-10', '01-12', '01-14', '01-16', '01-18', '01-20', '01-22'];

/* ---------- Panel (b) data ---------- */
const hours = [.5,1.5,2.5,3.5,4.5,5.5,6.5,7.5,8.5,9.5,10.5,11.5,12.5,13.5,14.5,15.5,16.5,17.5,18.5,19.5,20.5,21.5,22.5,23.5];
const bOrganic = [21.3,20.9,21,20.8,19.9,18.9,17.5,16.1,16.9,16.2,15.6,16.2,16.8,16.3,15.2,15.5,15.5,16.3,19.1,22.8,23.6,22.6,21.5,21];
const bSulfate = [9.45,9.5,9.4,9.4,9.35,9.1,9.1,9.1,9,9.2,9.1,9.1,9.1,8.7,8.7,8.9,9.1,9.4,9.35,9.4,9.35,9.45,9.35,9.35];
const bNitrate = [4.2,4.5,4.7,5.1,5.3,5.5,5.55,5.4,5.55,6.2,6.7,6.2,5.8,5,4.3,4.7,4.7,4.15,4,3.95,4.15,4.15,4.2,4.1];
const bAmmonium = [4.15,4.3,4.4,4.5,4.65,4.65,4.6,4.6,4.8,4.9,5.05,4.8,4.6,4.3,4.1,4.3,4.3,4.4,4.3,4.2,4.15,4.3,4.15,4.3];
const bChloride = [.6,.7,.85,.95,1,1.15,1.1,1.1,1.45,1.25,.9,.5,.3,.2,.15,.15,.2,.3,.35,.35,.5,.55,.6,.65];
const bBC = [6.3,6.3,6,6.2,6,5.6,5,5.2,5.9,5.1,4.2,4,3.6,3.1,3.2,3.6,3.9,4.5,5.1,5.2,6.5,7.1,7,6.8];
const bTemperature = [13.4,13.1,13,12.8,12.6,12.5,12.4,12.8,14.6,16.4,17.7,18.9,19.8,20.5,20.8,20.9,20.2,18.8,17.1,15.8,15,14.4,14.1,13.8];
const bLeftTicks = [0, 4, 8, 12, 16, 20, 24];
const bRightTicks = [8, 10, 12, 14, 16, 18, 20, 22, 24];
const bXTicks = [0, 4, 8, 12, 16, 20, 24];

/* ---------- Panel (c) data ---------- */
const cHC = [1.63,1.63,1.626,1.627,1.625,1.624,1.622,1.614,1.621,1.585,1.558,1.556,1.555,1.554,1.537,1.527,1.526,1.56,1.594,1.629,1.651,1.649,1.646,1.63];
const cOC = [.468,.469,.475,.482,.486,.488,.499,.515,.504,.554,.58,.582,.581,.59,.613,.626,.626,.573,.511,.457,.432,.436,.4465,.468];
const cLeftTicks = ['1.50', '1.55', '1.60', '1.65', '1.70'];
const cRightTicks = ['0.40', '0.45', '0.50', '0.55', '0.60', '0.65', '0.70'];
const cXTicks = [0, 10, 20];

/* ---------- Panel (d) data ---------- */
const dSizes = [60.5,71,81,90,100,116,133,150,169,187,208,234,264,294,321,346,378,414,453,495,533,575,620,674,726,764,811,849,893,957,1062,1179,1233,1309,1410,1566,1714,1932,2112,2243];
const dOrg = [.1,.2,.55,.85,1.1,2.1,3.5,4.95,6.5,8.4,10.2,12.3,14.2,16.1,17.5,18.9,20.3,21.7,22.8,23.8,24.4,24.45,24.15,23.8,22.8,21.2,18.6,16.6,14.6,12.9,10.7,8.7,8.1,7.55,6.3,5.2,4.4,3.5,3.1,2.8];
const dNO3 = [0,0,.02,.05,.1,.15,.3,.65,.95,1.35,1.95,2.6,3.3,4,4.7,5.3,6.05,6.85,7.55,8.05,8.45,8.7,8.8,8.75,8.35,7.45,6.2,5.6,5.1,4.6,3.7,3,2.7,2.4,2.2,1.85,1.6,1.35,1.25,1.2];
const dSO4 = [0,.02,.03,.06,.1,.2,.45,.85,1.25,1.85,2.5,3.2,4.5,5.5,6.75,7.55,9.3,10.7,12.5,13.5,14.45,15.15,15.85,16.35,16.3,15.2,13.5,12.3,11.3,10.2,8.7,7.05,6.45,5.9,5.4,4.7,4.1,3.6,3.3,3.05];
const dNH4 = [0,0,0,.02,.05,.08,.15,.25,.35,.5,.85,1.15,1.65,2,2.4,2.8,3.4,3.9,4.5,4.9,5.5,5.75,5.9,6,5.85,5.5,4.8,4.4,4.1,3.8,3.2,2.6,2.4,2.2,2,1.75,1.35,1.25,1.15,1];
const dChl = [0,0,0,.01,.02,.03,.06,.1,.12,.2,.25,.33,.4,.55,.65,.7,.8,.9,1,1.08,1.12,1.15,1.15,1.15,1.1,1,.85,.7,.65,.6,.5,.38,.35,.33,.3,.22,.22,.15,.15,.15];
const dYTicks = [0, 5, 10, 15, 20, 25];
const dGridSizes = [60, 70, 80, 90, 100, 200, 300, 400, 500, 600, 700, 800, 900, 1000, 2000];
const dDigitSizes = [60, 70, 80, 200, 300, 400, 500, 600, 700, 800, 2000];
const dDigitLabels = ['6', '7', '8', '2', '3', '4', '5', '6', '7', '8', '2'];
const dDecades = [100, 1000];

/* ---------- Axis functions ---------- */
const ax = d => 188.7 + 80.03 * d;
const ay = v => 866 - 11.87 * v;
const bx = h => 107 + 18.71 * h;
const by = v => 1500.6 - 18.3 * v;
const bt = t => 1500.6 - (t - 8) * 28.64;
const cx = h => 766 + 17.8 * h;
const cyHC = v => 1497 - (v - 1.5) * 2207.5;
const cyOC = v => 1497 - (v - .4) * 1471.7;
const dx = s => 1320 + (490 + 770 * Math.log10(s / 100)) / 2.099;
const dy = v => 1501.7 - 19.09 * v;

const NS = 'http://www.w3.org/2000/svg';
function make(parent, tag, attrs, text) {
  const el = document.createElementNS(NS, tag);
  for (const k in attrs) el.setAttribute(k, attrs[k]);
  if (text !== undefined) el.textContent = text;
  parent.appendChild(el);
  return el;
}
function tick(parent, x1, y1, x2, y2, color, width) {
  const el = make(parent, 'line', {x1: x1, y1: y1, x2: x2, y2: y2, stroke: color, 'stroke-width': width});
  
  
}
function label(parent, x, y, str, size, anchor, color, bold) {
  const el = make(parent, 'text', {x: x, y: y, 'font-size': size, 'text-anchor': anchor, fill: color, 'font-weight': bold ? 'bold' : 'normal'}, str);
  
  
}
function pathFromPairs(pairs, fx, fy) {
  let d = '', pen = false;
  for (const p of pairs) {
    if (p === null) { pen = false; continue; }
    d += (pen ? 'L' : 'M') + fx(p[0]).toFixed(1) + ' ' + fy(p[1]).toFixed(1);
    pen = true;
  }
  return d;
}
function pathFromArrays(xs, ys, fx, fy) {
  return pathFromPairs(xs.map((x, i) => [x, ys[i]]), fx, fy);
}

/* ---------- Panel (a) ---------- */
const aLines = document.getElementById('aLines');
const aDefs = [
  ['line-sulfate', sulfateSeries, '#ff0000', 5],
  ['line-organic', organicSeries, '#00ff00', 5],
  ['line-ammonium', ammoniumSeries, '#ffa500', 5],
  ['line-nitrate', nitrateSeries, '#0000ff', 5],
  ['line-chloride', chlorideSeries, '#ff00cc', 4.5],
  ['line-bc', bcSeries, '#404040', 4]
];
for (const def of aDefs) {
  const el = make(aLines, 'path', {d: pathFromPairs(def[1], ax, ay), fill: 'none', stroke: def[2], 'stroke-width': def[3], 'stroke-linejoin': 'round', 'stroke-linecap': 'butt'});
  
  
}

const aPie = document.getElementById('aPie');
const pieColors = ['#000000', '#ff00cc', '#ffa500', '#0000ff', '#ff0000', '#00ff00'];
const pieTotal = pieValues.reduce((a, b) => a + b, 0);
let pieStart = 0;
pieValues.forEach((value, i) => {
  const a0 = pieStart / pieTotal * 2 * Math.PI;
  const a1 = (pieStart + value) / pieTotal * 2 * Math.PI;
  pieStart += value;
  const R = 212, CX = 612, CY = 255.5;
  const large = a1 - a0 > Math.PI ? 1 : 0;
  const d = 'M' + CX + ' ' + CY + 'L' + (CX + R * Math.cos(a0)).toFixed(2) + ' ' + (CY + R * Math.sin(a0)).toFixed(2) +
            'A' + R + ' ' + R + ' 0 ' + large + ' 1 ' + (CX + R * Math.cos(a1)).toFixed(2) + ' ' + (CY + R * Math.sin(a1)).toFixed(2) + 'Z';
  const el = make(aPie, 'path', {d: d, fill: pieColors[i]});
  
  
});
const pieLabelPos = [[700, 317, '#fff'], [695, 400, '#fff'], [619, 431, '#000'], [506, 429, '#fff'], [408, 321, '#000'], [600, 139, '#000']];
pieValues.forEach((value, i) => {
  const el = make(aPie, 'text', {x: pieLabelPos[i][0], y: pieLabelPos[i][1], 'font-size': 37, 'word-spacing': -4, fill: pieLabelPos[i][2]}, value.toFixed(1) + ' %');
  
  
});

const aAxes = document.getElementById('aAxes');
for (const v of aYTicks) {
  tick(aAxes, 163, ay(v), 178, ay(v), '#000', 3.5);
  label(aAxes, 157, ay(v) + 17, String(v), 44, 'end', '#000', true);
}
for (let d = 0; d <= 23; d++) {
  tick(aAxes, ax(d), 870, ax(d), d % 2 ? 879 : 888, '#000', 3.5);
}
aXMajorDays.forEach((d, i) => {
  label(aAxes, d === 0 ? ax(d) : ax(d) - 11, 939, aXLabels[i], 44, 'middle', '#000', true);
});

/* ---------- Panel (b) ---------- */
const bAxes = document.getElementById('bAxes');
for (let v = 0; v <= 24; v += 2) {
  tick(bAxes, v % 4 ? 101 : 96, by(v), 107, by(v), '#000', 2.5);
}
for (const v of bLeftTicks) label(bAxes, 92, by(v) + 11, String(v), 31, 'end', '#000', true);
for (const t of bRightTicks) {
  tick(bAxes, 556, bt(t), 571, bt(t), '#8c8c8c', 3);
  label(bAxes, 582, bt(t) + 11, String(t), 31, 'start', '#8c8c8c', true);
}
for (let h = 0; h <= 24; h += 2) {
  tick(bAxes, bx(h), 1501, bx(h), h % 4 ? 1507 : 1512, '#000', 2.5);
}
for (const h of bXTicks) label(bAxes, bx(h), 1546, String(h), 31, 'middle', '#000', true);

const bMarks = document.getElementById('bMarks');
const bDefs = [
  ['organic', bOrganic, '#00ee00'],
  ['sulfate', bSulfate, '#ff0000'],
  ['ammonium', bAmmonium, '#ffa500'],
  ['nitrate', bNitrate, '#0000ff'],
  ['bc', bBC, '#404040'],
  ['chloride', bChloride, '#ff00cc']
];
for (const def of bDefs) {
  const line = make(bMarks, 'path', {d: pathFromArrays(hours, def[1], bx, by), fill: 'none', stroke: def[2], 'stroke-width': 3});
  
  
  def[1].forEach((v, i) => {
    const c = make(bMarks, 'circle', {cx: bx(hours[i]), cy: by(v), r: 7.2, fill: def[2]});
    
    
  });
}
const tempLine = make(bMarks, 'path', {d: pathFromArrays(hours, bTemperature, bx, bt), fill: 'none', stroke: '#8c8c8c', 'stroke-width': 4.5});



/* ---------- Panel (c) ---------- */
const cAxes = document.getElementById('cAxes');
for (let i = 0; i <= 20; i++) {
  const yy = 1497 - i * 22.08;
  tick(cAxes, i % 5 ? 761 : 755, yy, 766, yy, '#3366ff', 3);
}
for (let i = 0; i <= 30; i++) {
  const yy = 1497 - i * 14.72;
  tick(cAxes, 1193, yy, i % 5 ? 1199 : 1205, yy, '#ff00cc', 3);
}
for (const s of cLeftTicks) label(cAxes, 751, cyHC(parseFloat(s)) + 11, s, 32, 'end', '#3366ff', true);
for (const s of cRightTicks) label(cAxes, 1212, cyOC(parseFloat(s)) + 11, s, 32, 'start', '#ff00cc', true);
for (let h = 0; h <= 24; h += 2) {
  tick(cAxes, cx(h), 1497, cx(h), h % 10 ? 1503 : 1508, '#000', 3);
}
for (const h of cXTicks) label(cAxes, cx(h), 1542, String(h), 32, 'middle', '#000', false);

const cMarks = document.getElementById('cMarks');
const hcLine = make(cMarks, 'path', {d: pathFromArrays(hours, cHC, cx, cyHC), fill: 'none', stroke: '#3366ff', 'stroke-width': 4, 'stroke-linejoin': 'round'});


cHC.forEach((v, i) => {
  const X = cx(hours[i]), Y = cyHC(v);
  const tri = make(cMarks, 'polygon', {points: (X - 10.5) + ',' + (Y + 7) + ' ' + X + ',' + (Y - 11) + ' ' + (X + 10.5) + ',' + (Y + 7), fill: 'none', stroke: '#3366ff', 'stroke-width': 3.5});
  
  
});
const ocLine = make(cMarks, 'path', {d: pathFromArrays(hours, cOC, cx, cyOC), fill: 'none', stroke: '#ff00cc', 'stroke-width': 4, 'stroke-linejoin': 'round'});


cOC.forEach((v, i) => {
  const sq = make(cMarks, 'rect', {x: cx(hours[i]) - 9, y: cyOC(v) - 8, width: 18, height: 16, fill: 'none', stroke: '#ff00cc', 'stroke-width': 3.5});
  
  
});

/* ---------- Panel (d) ---------- */
const dGrid = document.getElementById('dGrid');
for (const s of dGridSizes) {
  const g = make(dGrid, 'line', {x1: dx(s), y1: 1018, x2: dx(s), y2: 1508, stroke: '#b0b0ff', 'stroke-width': 1, 'stroke-dasharray': '2 3'});
  
  
}
const dMarks = document.getElementById('dMarks');
const dDefs = [
  ['org', dOrg, '#00c800'],
  ['no3', dNO3, '#0000ff'],
  ['so4', dSO4, '#ff0000'],
  ['nh4', dNH4, '#ff9f00'],
  ['chl', dChl, '#ff00cc']
];
for (const def of dDefs) {
  const el = make(dMarks, 'path', {d: pathFromArrays(dSizes, def[1], dx, dy), fill: 'none', stroke: def[2], 'stroke-width': 5, 'stroke-linejoin': 'round'});
  
  
}
const dAxes = document.getElementById('dAxes');
for (const v of dYTicks) {
  tick(dAxes, 1450, dy(v), 1467, dy(v), '#000', 2.5);
  label(dAxes, 1438, dy(v) + 10, String(v), 29, 'end', '#000', true);
}
for (const s of dGridSizes) {
  tick(dAxes, dx(s), 1508, dx(s), dDecades.includes(s) ? 1527 : 1518, '#000', 2.5);
}
dDigitSizes.forEach((s, i) => {
  label(dAxes, dx(s), 1540, dDigitLabels[i], 22, 'middle', '#000', true);
});
for (const s of dDecades) label(dAxes, s === 100 ? 1555 : 1920, 1568, String(s), 30, 'middle', '#000', true);
</script>
</body>
</html>
